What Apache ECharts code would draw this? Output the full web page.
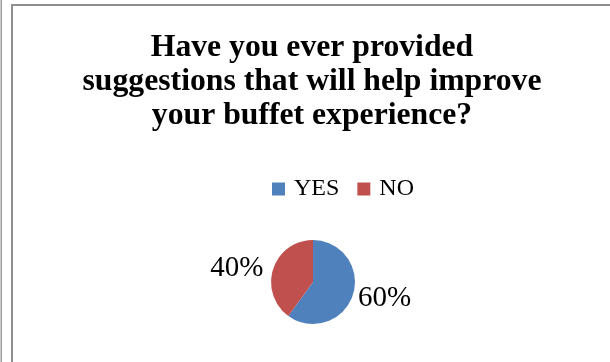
<!DOCTYPE html>
<html>
<head>
<meta charset="utf-8">
<style>
  html, body { margin: 0; padding: 0; background: #ffffff; }
  #chart { width: 610px; height: 362px; }
</style>
<script src="https://cdn.jsdelivr.net/npm/echarts@6/dist/echarts.min.js"></script>
</head>
<body>
<div id="chart"></div>
<script>
// Survey answers and their shares (percent)
const categories = ['YES', 'NO'];
const shares = [60, 40];
const colors = ['#4F81BD', '#C0504D'];
const titleText = 'Have you ever provided\nsuggestions that will help improve\nyour buffet experience?';

const chart = echarts.init(document.getElementById('chart'), null, { renderer: 'canvas' });

const serif = '"Liberation Serif", "Times New Roman", serif';

// per-slice label placement tweaks
const labelLineLen = [0, 5];
const labelShiftY = [3, 1];

chart.setOption({
  backgroundColor: '#ffffff',
  animation: false,
  graphic: [
    // outer edge line and chart-area frame
    { type: 'rect', shape: { x: 0.5, y: -2, width: 1.5, height: 370 },
      style: { fill: '#9a9a9a' }, silent: true },
    { type: 'rect', shape: { x: 12, y: 5, width: 620, height: 380 },
      style: { fill: 'none', stroke: '#8f8f8f', lineWidth: 2 }, silent: true }
  ],
  title: {
    text: titleText,
    left: 307,
    textAlign: 'center',
    top: 26,
    textStyle: {
      fontFamily: serif,
      fontWeight: 'bold',
      fontSize: 31.7,
      lineHeight: 34,
      color: '#000000'
    }
  },
  legend: {
    data: categories,
    top: 172,
    left: 267,
    itemWidth: 13,
    itemHeight: 13,
    itemGap: 18,
    icon: 'rect',
    textStyle: { fontFamily: serif, fontSize: 24, color: '#000000', padding: [0, 0, 0, 4] }
  },
  series: [{
    type: 'pie',
    center: [313, 282],
    radius: 42,
    startAngle: 90,
    clockwise: true,
    color: colors,
    data: categories.map((name, i) => ({
      name,
      value: shares[i],
      labelLine: { length: labelLineLen[i] }
    })),
    label: {
      show: true,
      position: 'outside',
      formatter: '{d}%',
      fontFamily: serif,
      fontSize: 29,
      color: '#000000'
    },
    labelLayout: (params) => ({ dy: labelShiftY[params.dataIndex] }),
    labelLine: { show: false, length: 5, length2: 0 },
    emphasis: { disabled: true }
  }]
});
</script>
</body>
</html>
